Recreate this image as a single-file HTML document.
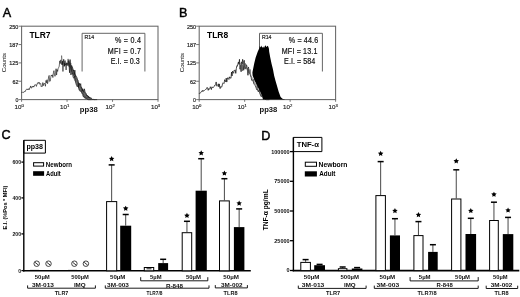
<!DOCTYPE html>
<html><head><meta charset="utf-8"><style>
html,body{margin:0;padding:0;background:#fff;width:520px;height:297px;overflow:hidden}
svg{display:block;will-change:transform}
text{font-family:"Liberation Sans", sans-serif}
</style></head><body>
<svg width="520" height="297" viewBox="0 0 520 297">
<rect width="520" height="297" fill="#fff"/>
<text x="2.8" y="17.2" font-size="12.6" text-anchor="start" fill="#000" stroke="#000" stroke-width="0.45">A</text>
<text x="179.1" y="17.4" font-size="12.6" text-anchor="start" fill="#000" stroke="#000" stroke-width="0.45">B</text>
<text x="1.6" y="139.3" font-size="12.6" text-anchor="start" fill="#000" stroke="#000" stroke-width="0.45">C</text>
<text x="261.3" y="139.5" font-size="12.6" text-anchor="start" fill="#000" stroke="#000" stroke-width="0.45">D</text>
<rect x="21.6" y="26.2" width="136.4" height="73.39999999999999" fill="none" stroke="#666" stroke-width="1.05"/>
<line x1="18.6" y1="26.2" x2="21.6" y2="26.2" stroke="#666" stroke-width="0.9"/>
<text x="18.400000000000002" y="28.5" font-size="6.2" text-anchor="end" textLength="9.1" lengthAdjust="spacingAndGlyphs" fill="#222" stroke="#222" stroke-width="0.2">250</text>
<line x1="18.6" y1="44.55" x2="21.6" y2="44.55" stroke="#666" stroke-width="0.9"/>
<text x="18.400000000000002" y="46.849999999999994" font-size="6.2" text-anchor="end" textLength="9.1" lengthAdjust="spacingAndGlyphs" fill="#222" stroke="#222" stroke-width="0.2">187</text>
<line x1="18.6" y1="62.89999999999999" x2="21.6" y2="62.89999999999999" stroke="#666" stroke-width="0.9"/>
<text x="18.400000000000002" y="65.19999999999999" font-size="6.2" text-anchor="end" textLength="9.1" lengthAdjust="spacingAndGlyphs" fill="#222" stroke="#222" stroke-width="0.2">125</text>
<line x1="18.6" y1="81.25" x2="21.6" y2="81.25" stroke="#666" stroke-width="0.9"/>
<text x="18.400000000000002" y="83.55" font-size="6.2" text-anchor="end" textLength="6.0" lengthAdjust="spacingAndGlyphs" fill="#222" stroke="#222" stroke-width="0.2">62</text>
<line x1="18.6" y1="99.6" x2="21.6" y2="99.6" stroke="#666" stroke-width="0.9"/>
<text x="18.400000000000002" y="101.89999999999999" font-size="6.2" text-anchor="end" textLength="2.9" lengthAdjust="spacingAndGlyphs" fill="#222" stroke="#222" stroke-width="0.2">0</text>
<line x1="21.6" y1="99.6" x2="21.6" y2="101.8" stroke="#666" stroke-width="0.9"/>
<text x="23.8" y="108.5" font-size="6.2" text-anchor="end" fill="#222" stroke="#222" stroke-width="0.15">10<tspan font-size="4.2" dy="-2.0">0</tspan></text>
<line x1="67.07" y1="99.6" x2="67.07" y2="101.8" stroke="#666" stroke-width="0.9"/>
<text x="69.27" y="108.5" font-size="6.2" text-anchor="end" fill="#222" stroke="#222" stroke-width="0.15">10<tspan font-size="4.2" dy="-2.0">1</tspan></text>
<line x1="112.53999999999999" y1="99.6" x2="112.53999999999999" y2="101.8" stroke="#666" stroke-width="0.9"/>
<text x="114.74" y="108.5" font-size="6.2" text-anchor="end" fill="#222" stroke="#222" stroke-width="0.15">10<tspan font-size="4.2" dy="-2.0">2</tspan></text>
<line x1="158.01" y1="99.6" x2="158.01" y2="101.8" stroke="#666" stroke-width="0.9"/>
<text x="160.20999999999998" y="108.5" font-size="6.2" text-anchor="end" fill="#222" stroke="#222" stroke-width="0.15">10<tspan font-size="4.2" dy="-2.0">3</tspan></text>
<text transform="translate(6.400000000000002,62.6) rotate(-90)" font-size="5.8" text-anchor="middle" fill="#222" stroke="#222" stroke-width="0.05" textLength="19.2" lengthAdjust="spacingAndGlyphs">Counts</text>
<text x="29.400000000000002" y="38.2" font-size="9.8" font-weight="bold" text-anchor="start" textLength="21.2" lengthAdjust="spacingAndGlyphs" fill="#000">TLR7</text>
<polyline points="82.1,71.5 82.1,33.3 144.9,33.3 144.9,71.5" fill="none" stroke="#555" stroke-width="0.9"/>
<text transform="translate(84.5,39.2) scale(0.9,1)" font-size="5.8" textLength="10.67" lengthAdjust="spacing" fill="#222" stroke="#222" stroke-width="0.2">R14</text>
<text transform="translate(115.0,42.9) scale(0.85,1)" font-size="8.4" textLength="30.59" lengthAdjust="spacing" fill="#111" stroke="#111" stroke-width="0.2">% = 0.4</text>
<text transform="translate(107.8,53.6) scale(0.85,1)" font-size="8.4" textLength="39.06" lengthAdjust="spacing" fill="#111" stroke="#111" stroke-width="0.2">MFI = 0.7</text>
<text transform="translate(110.8,64.0) scale(0.85,1)" font-size="8.4" textLength="34.12" lengthAdjust="spacing" fill="#111" stroke="#111" stroke-width="0.2">E.I. = 0.3</text>
<polygon points="68.60,62.17 69.10,62.33 69.60,62.50 70.10,63.37 70.60,64.23 71.10,65.10 71.60,65.96 72.10,66.83 72.60,67.89 73.10,69.00 73.60,70.11 74.10,71.22 74.60,72.33 75.10,73.43 75.60,74.61 76.10,75.88 76.60,77.14 77.10,78.41 77.60,79.68 78.10,80.95 78.60,81.90 79.10,82.78 79.60,83.65 80.10,84.53 80.60,85.40 81.10,86.28 81.60,87.15 82.10,88.03 82.60,88.75 83.10,89.43 83.60,90.11 84.10,90.79 84.60,91.48 85.10,92.16 85.60,92.84 86.10,93.53 86.60,94.21 87.10,94.89 87.60,95.48 88.10,95.92 88.60,96.36 89.10,96.80 89.60,97.24 90.10,97.68 90.60,98.12 91.10,98.42 91.60,98.62 92.10,98.81 92.60,99.01 93.10,99.21 93.60,99.40 94.10,99.60 87.90,99.60 87.40,99.21 86.90,98.82 86.40,98.43 85.90,98.03 85.40,97.59 84.90,97.07 84.40,96.55 83.90,96.03 83.40,95.51 82.90,94.79 82.40,93.95 81.90,93.10 81.40,92.26 80.90,91.41 80.40,90.57 79.90,89.72 79.40,88.88 78.90,88.00 78.40,87.00 77.90,86.00 77.40,85.00 76.90,84.00 76.40,83.00 75.90,82.00 75.40,80.95 74.90,79.68 74.40,78.41 73.90,77.14 73.40,75.87 72.90,74.61 72.40,73.37 71.90,72.16 71.40,70.94 70.90,69.73 70.40,68.50 69.90,67.25 69.40,66.00 68.90,64.75" fill="#666"/>
<polyline points="21.60,92.51 22.13,91.98 22.66,92.45 23.19,92.60 23.72,92.44 24.25,91.27 24.78,91.62 25.31,91.54 25.84,89.93 26.37,89.58 26.90,88.85 27.43,89.81 27.96,88.95 28.49,88.87 29.02,89.99 29.55,88.05 30.08,88.10 30.61,85.95 31.14,87.92 31.67,88.11 32.20,86.32 32.73,87.10 33.26,85.96 33.79,87.12 34.32,86.10 34.85,84.70 35.38,84.69 35.91,85.04 36.44,86.36 36.97,83.77 37.50,83.91 38.03,82.50 38.56,83.30 39.09,82.11 39.62,84.18 40.15,83.98 40.68,83.44 41.21,86.72 41.74,85.92 42.27,86.44 42.80,82.57 43.33,85.68 43.86,83.73 44.39,83.16 44.92,84.28 45.45,86.26 45.98,80.51 46.51,82.79 47.04,79.71 47.57,83.69 48.10,81.11 48.63,76.50 49.16,75.43 49.69,81.50 50.22,81.10 50.75,77.42 51.28,74.97 51.81,75.83 52.34,74.81 52.87,77.55 53.40,72.75 53.93,70.66 54.46,74.21 54.99,76.33 55.52,73.79 56.05,68.73 56.58,75.07 57.11,69.58 57.64,71.44 58.17,68.13 58.70,67.69 59.23,66.17 59.76,60.87 60.29,63.47 60.82,59.86 61.35,63.79 61.88,64.40 62.41,61.38 62.94,71.48 63.47,62.19 64.00,61.48 64.53,66.00 65.06,60.50 65.59,63.81 66.12,69.97 66.65,62.74 67.18,65.73 67.71,64.77 68.24,64.12 68.77,60.51 69.30,65.43 69.83,67.16 70.36,67.25 70.89,74.94 71.42,67.49 71.95,74.34 72.48,72.75 73.01,76.93 73.54,77.96 74.07,78.25 74.60,75.76 75.13,79.14 75.66,82.46 76.19,83.01 76.72,85.32 77.25,84.75 77.78,86.54 78.31,85.88 78.84,89.58 79.37,89.23 79.90,90.69 80.43,91.41 80.96,90.77 81.49,92.29 82.02,92.77 82.55,93.19 83.08,94.20 83.61,96.71 84.14,95.92 84.67,97.90 85.20,97.42 85.73,96.99 86.26,98.40 86.79,98.86 87.32,99.10 87.85,99.56 88.38,99.60 88.91,99.60 89.44,99.60 89.97,99.60 90.50,99.60 91.03,99.60 91.56,99.60" fill="none" stroke="#1a1a1a" stroke-width="0.65" stroke-linejoin="round"/>
<polyline points="61.60,55.53 62.13,64.86 62.66,61.20 63.19,61.73 63.72,59.27 64.25,66.44 64.78,63.15 65.31,64.16 65.84,65.13 66.37,64.29 66.90,63.27 67.43,62.71 67.96,64.89 68.49,60.77 69.02,64.07 69.55,72.78 70.08,59.54 70.61,65.48 71.14,67.47 71.67,65.51 72.20,66.52 72.73,68.07 73.26,71.07 73.79,70.15 74.32,74.67 74.85,70.15 75.38,76.40 75.91,75.76 76.44,76.70 76.97,77.71 77.50,79.83 78.03,80.00 78.56,87.43 79.09,83.11 79.62,84.11 80.15,85.41 80.68,83.62 81.21,87.93 81.74,87.67 82.27,90.96 82.80,88.85 83.33,91.76 83.86,92.35 84.39,88.82 84.92,91.33 85.45,92.77 85.98,93.32 86.51,95.45 87.04,95.76 87.57,95.23 88.10,97.51 88.63,96.29 89.16,98.00 89.69,97.33 90.22,98.41 90.75,97.56 91.28,98.14 91.81,98.93 92.34,99.53 92.87,99.35 93.40,99.36 93.93,99.60 94.46,99.60 94.99,99.60 95.52,99.60 96.05,99.60 96.58,99.60 97.11,99.60" fill="none" stroke="#111" stroke-width="0.7" stroke-linejoin="round"/>
<polyline points="67.60,62.20 68.13,58.90 68.66,66.35 69.19,61.55 69.72,66.70 70.25,67.96 70.78,62.93 71.31,69.61 71.84,71.68 72.37,71.77 72.90,72.55 73.43,76.01 73.96,76.28 74.49,80.27 75.02,80.58 75.55,81.99 76.08,84.38 76.61,85.64 77.14,86.79 77.67,85.87 78.20,86.83 78.73,88.06 79.26,88.56 79.79,91.09 80.32,90.52 80.85,91.08 81.38,91.48 81.91,93.91 82.44,94.36 82.97,96.51 83.50,96.01 84.03,97.72 84.56,97.72 85.09,96.88 85.62,99.06 86.15,98.10 86.68,98.67 87.21,99.21 87.74,99.44 88.27,99.60 88.80,99.60 89.33,99.60 89.86,99.60 90.39,99.60 90.92,99.60 91.45,99.60 91.98,99.60 92.51,99.60 93.04,99.60 93.57,99.60 94.10,99.60 94.63,99.60 95.16,99.60" fill="none" stroke="#333" stroke-width="0.6" stroke-linejoin="round"/>
<rect x="199.2" y="26.2" width="136.40000000000003" height="73.39999999999999" fill="none" stroke="#666" stroke-width="1.05"/>
<line x1="196.2" y1="26.2" x2="199.2" y2="26.2" stroke="#666" stroke-width="0.9"/>
<text x="196.0" y="28.5" font-size="6.2" text-anchor="end" textLength="9.1" lengthAdjust="spacingAndGlyphs" fill="#222" stroke="#222" stroke-width="0.2">250</text>
<line x1="196.2" y1="44.55" x2="199.2" y2="44.55" stroke="#666" stroke-width="0.9"/>
<text x="196.0" y="46.849999999999994" font-size="6.2" text-anchor="end" textLength="9.1" lengthAdjust="spacingAndGlyphs" fill="#222" stroke="#222" stroke-width="0.2">187</text>
<line x1="196.2" y1="62.89999999999999" x2="199.2" y2="62.89999999999999" stroke="#666" stroke-width="0.9"/>
<text x="196.0" y="65.19999999999999" font-size="6.2" text-anchor="end" textLength="9.1" lengthAdjust="spacingAndGlyphs" fill="#222" stroke="#222" stroke-width="0.2">125</text>
<line x1="196.2" y1="81.25" x2="199.2" y2="81.25" stroke="#666" stroke-width="0.9"/>
<text x="196.0" y="83.55" font-size="6.2" text-anchor="end" textLength="6.0" lengthAdjust="spacingAndGlyphs" fill="#222" stroke="#222" stroke-width="0.2">62</text>
<line x1="196.2" y1="99.6" x2="199.2" y2="99.6" stroke="#666" stroke-width="0.9"/>
<text x="196.0" y="101.89999999999999" font-size="6.2" text-anchor="end" textLength="2.9" lengthAdjust="spacingAndGlyphs" fill="#222" stroke="#222" stroke-width="0.2">0</text>
<line x1="199.2" y1="99.6" x2="199.2" y2="101.8" stroke="#666" stroke-width="0.9"/>
<text x="201.39999999999998" y="108.5" font-size="6.2" text-anchor="end" fill="#222" stroke="#222" stroke-width="0.15">10<tspan font-size="4.2" dy="-2.0">0</tspan></text>
<line x1="244.67" y1="99.6" x2="244.67" y2="101.8" stroke="#666" stroke-width="0.9"/>
<text x="246.86999999999998" y="108.5" font-size="6.2" text-anchor="end" fill="#222" stroke="#222" stroke-width="0.15">10<tspan font-size="4.2" dy="-2.0">1</tspan></text>
<line x1="290.14" y1="99.6" x2="290.14" y2="101.8" stroke="#666" stroke-width="0.9"/>
<text x="292.34" y="108.5" font-size="6.2" text-anchor="end" fill="#222" stroke="#222" stroke-width="0.15">10<tspan font-size="4.2" dy="-2.0">2</tspan></text>
<line x1="335.61" y1="99.6" x2="335.61" y2="101.8" stroke="#666" stroke-width="0.9"/>
<text x="337.81" y="108.5" font-size="6.2" text-anchor="end" fill="#222" stroke="#222" stroke-width="0.15">10<tspan font-size="4.2" dy="-2.0">3</tspan></text>
<text transform="translate(184.0,62.6) rotate(-90)" font-size="5.8" text-anchor="middle" fill="#222" stroke="#222" stroke-width="0.05" textLength="19.2" lengthAdjust="spacingAndGlyphs">Counts</text>
<text x="207.0" y="38.2" font-size="9.8" font-weight="bold" text-anchor="start" textLength="21.2" lengthAdjust="spacingAndGlyphs" fill="#000">TLR8</text>
<polyline points="259.5,71.5 259.5,33.3 322.4,33.3 322.4,71.5" fill="none" stroke="#555" stroke-width="0.9"/>
<text transform="translate(261.9,39.2) scale(0.9,1)" font-size="5.8" textLength="10.67" lengthAdjust="spacing" fill="#222" stroke="#222" stroke-width="0.2">R14</text>
<text transform="translate(288.8,43.2) scale(0.85,1)" font-size="8.4" textLength="34.59" lengthAdjust="spacing" fill="#111" stroke="#111" stroke-width="0.2">% = 44.6</text>
<text transform="translate(281.8,54.0) scale(0.85,1)" font-size="8.4" textLength="41.88" lengthAdjust="spacing" fill="#111" stroke="#111" stroke-width="0.2">MFI = 13.1</text>
<text transform="translate(284.1,64.3) scale(0.85,1)" font-size="8.4" textLength="36.47" lengthAdjust="spacing" fill="#111" stroke="#111" stroke-width="0.2">E.I. = 584</text>
<polyline points="199.20,93.66 199.73,93.03 200.26,93.19 200.79,92.33 201.32,91.59 201.85,91.53 202.38,90.39 202.91,91.62 203.44,90.61 203.97,90.76 204.50,90.45 205.03,89.85 205.56,89.43 206.09,89.14 206.62,88.93 207.15,87.37 207.68,88.34 208.21,90.33 208.74,88.62 209.27,89.24 209.80,88.86 210.33,86.75 210.86,87.99 211.39,89.57 211.92,86.81 212.45,87.17 212.98,87.86 213.51,87.22 214.04,86.51 214.57,85.36 215.10,85.55 215.63,84.48 216.16,81.95 216.69,85.98 217.22,86.22 217.75,85.60 218.28,83.80 218.81,86.85 219.34,83.92 219.87,88.43 220.40,88.34 220.93,86.45 221.46,87.22 221.99,86.30 222.52,83.88 223.05,82.79 223.58,83.33 224.11,83.51 224.64,79.70 225.17,81.00 225.70,81.76 226.23,78.09 226.76,82.08 227.29,79.24 227.82,77.65 228.35,78.67 228.88,79.48 229.41,76.84 229.94,78.31 230.47,77.85 231.00,78.29 231.53,72.05 232.06,75.97 232.59,71.13 233.12,72.39 233.65,73.28 234.18,70.13 234.71,70.41 235.24,70.04 235.77,73.36 236.30,68.71 236.83,65.75 237.36,66.18 237.89,64.06 238.42,61.94 238.95,64.33 239.48,59.34 240.01,69.22 240.54,65.27 241.07,71.71 241.60,61.85 242.13,63.98 242.66,59.31 243.19,65.33 243.72,70.20 244.25,60.56 244.78,68.70 245.31,68.96 245.84,66.30 246.37,64.76 246.90,69.20 247.43,68.52 247.96,75.29 248.49,66.98 249.02,72.88 249.55,73.71 250.08,74.14 250.61,76.09 251.14,77.31 251.67,80.34 252.20,80.33 252.73,80.79 253.26,81.14 253.79,83.77 254.32,84.48 254.85,85.16 255.38,85.89 255.91,87.34 256.44,88.87 256.97,90.03 257.50,89.15 258.03,90.86 258.56,91.98 259.09,89.75 259.62,92.95 260.15,93.87 260.68,95.26 261.21,96.62 261.74,95.79 262.27,97.05 262.80,97.49 263.33,97.56 263.86,98.01 264.39,98.71 264.92,99.17 265.45,99.43 265.98,99.60 266.51,99.60 267.04,99.60 267.57,99.60 268.10,99.60 268.63,99.60 269.16,99.60" fill="none" stroke="#111" stroke-width="0.75" stroke-linejoin="round"/>
<polyline points="240.00,68.61 240.53,68.28 241.06,62.75 241.59,71.15 242.12,64.68 242.65,70.87 243.18,61.03 243.71,63.66 244.24,60.28 244.77,65.73 245.30,63.38 245.83,65.86 246.36,67.66 246.89,65.62 247.42,70.66 247.95,69.35 248.48,67.73 249.01,70.71 249.54,73.13 250.07,69.44 250.60,74.39 251.13,76.68 251.66,76.71 252.19,79.05 252.72,80.08 253.25,81.27 253.78,79.12 254.31,83.04 254.84,83.84 255.37,84.19 255.90,83.53 256.43,87.33 256.96,88.78 257.49,86.28 258.02,91.42 258.55,91.09 259.08,90.91 259.61,90.30 260.14,94.06 260.67,96.03 261.20,94.43 261.73,96.04 262.26,96.45 262.79,96.46 263.32,97.12 263.85,97.63 264.38,98.36 264.91,98.13 265.44,98.56 265.97,99.35 266.50,99.60 267.03,99.60 267.56,99.60 268.09,99.60 268.62,99.60 269.15,99.60 269.68,99.60" fill="none" stroke="#555" stroke-width="0.75" stroke-linejoin="round"/>
<polygon points="262.8,99.6 262.6,96.9 260.1,91.6 257.4,86.2 254.7,80.8 252.6,75.4 252.4,72.5 253,69.4 254.2,63.6 255.6,57.7 257.7,51.8 259.3,48.2 259.8,46.0 260.6,47.5 261.3,45.6 262.2,47.8 263.2,46.5 264.0,48 264.8,46.2 265.6,45.3 266.4,47.2 267.3,45.8 268.2,46.4 268.9,48.5 269.2,51.8 270.3,57.7 271.5,63.6 273,69.4 274.1,75.4 275.5,80.8 277.1,86.2 278.6,91.6 280.6,96.9 282.5,98.7 285.4,99.6" fill="#000"/>
<text x="79.8" y="112.2" font-size="7.7" font-weight="bold" text-anchor="start" textLength="18.0" lengthAdjust="spacingAndGlyphs" fill="#111">pp38</text>
<text x="259.5" y="112.2" font-size="7.7" font-weight="bold" text-anchor="start" textLength="17.8" lengthAdjust="spacingAndGlyphs" fill="#111">pp38</text>
<line x1="23.8" y1="140.3" x2="23.8" y2="271.5" stroke="#000" stroke-width="1.4"/>
<line x1="23.1" y1="270.8" x2="250.8" y2="270.8" stroke="#000" stroke-width="1.6"/>
<line x1="21.400000000000002" y1="162.1" x2="23.8" y2="162.1" stroke="#000" stroke-width="1.3"/>
<text x="21.000000000000004" y="164.0" font-size="5.4" font-weight="bold" text-anchor="end" textLength="8.55" lengthAdjust="spacingAndGlyphs" fill="#111">600</text>
<line x1="21.400000000000002" y1="197.9" x2="23.8" y2="197.9" stroke="#000" stroke-width="1.3"/>
<text x="21.000000000000004" y="199.8" font-size="5.4" font-weight="bold" text-anchor="end" textLength="8.55" lengthAdjust="spacingAndGlyphs" fill="#111">400</text>
<line x1="21.400000000000002" y1="233.9" x2="23.8" y2="233.9" stroke="#000" stroke-width="1.3"/>
<text x="21.000000000000004" y="235.8" font-size="5.4" font-weight="bold" text-anchor="end" textLength="8.55" lengthAdjust="spacingAndGlyphs" fill="#111">200</text>
<line x1="21.400000000000002" y1="270.6" x2="23.8" y2="270.6" stroke="#000" stroke-width="1.3"/>
<text x="21.000000000000004" y="272.5" font-size="5.4" font-weight="bold" text-anchor="end" textLength="2.85" lengthAdjust="spacingAndGlyphs" fill="#111">0</text>
<polyline points="23.8,153.1 23.8,140.3 45.4,140.3 45.4,153.1 23.8,153.1" fill="none" stroke="#000" stroke-width="1"/>
<text x="26.4" y="149.0" font-size="7.3" font-weight="bold" text-anchor="start" textLength="16.6" lengthAdjust="spacingAndGlyphs" fill="#000">pp38</text>
<rect x="33.6" y="162.7" width="10" height="3.4" fill="#fff" stroke="#000" stroke-width="1"/>
<rect x="33.1" y="171.2" width="11" height="4.6" fill="#000"/>
<text x="45.8" y="166.6" font-size="6.3" font-weight="bold" text-anchor="start" textLength="26.3" lengthAdjust="spacingAndGlyphs" fill="#000">Newborn</text>
<text x="46.0" y="175.8" font-size="6.3" font-weight="bold" text-anchor="start" textLength="14.8" lengthAdjust="spacingAndGlyphs" fill="#000">Adult</text>
<text transform="translate(7.3,207.6) rotate(-90)" font-size="5.9" font-weight="bold" text-anchor="middle" textLength="44" lengthAdjust="spacingAndGlyphs">E.I. (%Pos * MFI)</text>
<circle cx="36.7" cy="263.7" r="2.75" fill="none" stroke="#222" stroke-width="0.85"/>
<line x1="34.995000000000005" y1="262.336" x2="38.405" y2="265.06399999999996" stroke="#333" stroke-width="1.0"/>
<circle cx="48.5" cy="263.7" r="2.75" fill="none" stroke="#222" stroke-width="0.85"/>
<line x1="46.795" y1="262.336" x2="50.205" y2="265.06399999999996" stroke="#333" stroke-width="1.0"/>
<circle cx="74.4" cy="263.7" r="2.75" fill="none" stroke="#222" stroke-width="0.85"/>
<line x1="72.69500000000001" y1="262.336" x2="76.105" y2="265.06399999999996" stroke="#333" stroke-width="1.0"/>
<circle cx="85.9" cy="263.7" r="2.75" fill="none" stroke="#222" stroke-width="0.85"/>
<line x1="84.19500000000001" y1="262.336" x2="87.605" y2="265.06399999999996" stroke="#333" stroke-width="1.0"/>
<line x1="30" y1="270.40000000000003" x2="39" y2="270.40000000000003" stroke="#000" stroke-width="0.9"/>
<line x1="68" y1="270.40000000000003" x2="77" y2="270.40000000000003" stroke="#000" stroke-width="0.9"/>
<rect x="106.6" y="201.6" width="10.100000000000009" height="69.20000000000002" fill="#fff" stroke="#000" stroke-width="1"/>
<line x1="111.65" y1="164.9" x2="111.65" y2="201.1" stroke="#333" stroke-width="0.9"/>
<line x1="108.65" y1="164.9" x2="114.65" y2="164.9" stroke="#000" stroke-width="1.5"/>
<polygon points="111.65,156.05 112.49,157.75 114.36,158.02 113.01,159.34 113.33,161.21 111.65,160.33 109.97,161.21 110.29,159.34 108.94,158.02 110.81,157.75" fill="#000"/>
<rect x="120.2" y="225.7" width="10.999999999999986" height="45.10000000000002" fill="#000"/>
<line x1="125.69999999999999" y1="214.5" x2="125.69999999999999" y2="225.7" stroke="#333" stroke-width="0.9"/>
<line x1="122.69999999999999" y1="214.5" x2="128.7" y2="214.5" stroke="#000" stroke-width="1.5"/>
<polygon points="125.70,205.65 126.54,207.35 128.41,207.62 127.06,208.94 127.38,210.81 125.70,209.93 124.02,210.81 124.34,208.94 122.99,207.62 124.86,207.35" fill="#000"/>
<rect x="144.3" y="267.5" width="9.399999999999977" height="3.3000000000000114" fill="#fff" stroke="#000" stroke-width="1"/>
<line x1="146.5" y1="268.8" x2="151.5" y2="268.8" stroke="#000" stroke-width="0.9"/>
<rect x="158.2" y="263.1" width="9.900000000000006" height="7.699999999999989" fill="#000"/>
<line x1="163.14999999999998" y1="259.3" x2="163.14999999999998" y2="263.1" stroke="#333" stroke-width="0.9"/>
<line x1="160.14999999999998" y1="259.3" x2="166.14999999999998" y2="259.3" stroke="#000" stroke-width="1.5"/>
<rect x="182.2" y="232.7" width="9.5" height="38.10000000000002" fill="#fff" stroke="#000" stroke-width="1"/>
<line x1="186.95" y1="221.3" x2="186.95" y2="232.2" stroke="#333" stroke-width="0.9"/>
<line x1="183.95" y1="221.3" x2="189.95" y2="221.3" stroke="#000" stroke-width="1.5"/>
<polygon points="186.95,212.85 187.79,214.55 189.66,214.82 188.31,216.14 188.63,218.01 186.95,217.12 185.27,218.01 185.59,216.14 184.24,214.82 186.11,214.55" fill="#000"/>
<rect x="195.6" y="190.7" width="11.200000000000017" height="80.10000000000002" fill="#000"/>
<line x1="201.2" y1="158.7" x2="201.2" y2="190.7" stroke="#333" stroke-width="0.9"/>
<line x1="198.2" y1="158.7" x2="204.2" y2="158.7" stroke="#000" stroke-width="1.5"/>
<polygon points="201.20,150.25 202.04,151.95 203.91,152.22 202.56,153.54 202.88,155.41 201.20,154.53 199.52,155.41 199.84,153.54 198.49,152.22 200.36,151.95" fill="#000"/>
<rect x="219.5" y="200.9" width="9.800000000000011" height="69.9" fill="#fff" stroke="#000" stroke-width="1"/>
<line x1="224.4" y1="178.7" x2="224.4" y2="200.4" stroke="#333" stroke-width="0.9"/>
<line x1="221.4" y1="178.7" x2="227.4" y2="178.7" stroke="#000" stroke-width="1.5"/>
<polygon points="224.40,170.45 225.24,172.15 227.11,172.42 225.76,173.74 226.08,175.61 224.40,174.73 222.72,175.61 223.04,173.74 221.69,172.42 223.56,172.15" fill="#000"/>
<rect x="233.9" y="227.1" width="10.5" height="43.70000000000002" fill="#000"/>
<line x1="239.15" y1="208.9" x2="239.15" y2="227.1" stroke="#333" stroke-width="0.9"/>
<line x1="236.15" y1="208.9" x2="242.15" y2="208.9" stroke="#000" stroke-width="1.5"/>
<polygon points="239.15,200.55 239.99,202.25 241.86,202.52 240.51,203.84 240.83,205.71 239.15,204.83 237.47,205.71 237.79,203.84 236.44,202.52 238.31,202.25" fill="#000"/>
<line x1="293.4" y1="137.4" x2="293.4" y2="271.3" stroke="#000" stroke-width="1.4"/>
<line x1="292.7" y1="270.6" x2="519.3" y2="270.6" stroke="#000" stroke-width="1.6"/>
<line x1="290.0" y1="151.6" x2="293.4" y2="151.6" stroke="#000" stroke-width="1.3"/>
<text x="289.6" y="153.5" font-size="6.2" font-weight="bold" text-anchor="end" textLength="18.419999999999998" lengthAdjust="spacingAndGlyphs" fill="#111">100000</text>
<line x1="290.0" y1="181.3" x2="293.4" y2="181.3" stroke="#000" stroke-width="1.3"/>
<text x="289.6" y="183.20000000000002" font-size="6.2" font-weight="bold" text-anchor="end" textLength="15.35" lengthAdjust="spacingAndGlyphs" fill="#111">75000</text>
<line x1="290.0" y1="211.0" x2="293.4" y2="211.0" stroke="#000" stroke-width="1.3"/>
<text x="289.6" y="212.9" font-size="6.2" font-weight="bold" text-anchor="end" textLength="15.35" lengthAdjust="spacingAndGlyphs" fill="#111">50000</text>
<line x1="290.0" y1="240.7" x2="293.4" y2="240.7" stroke="#000" stroke-width="1.3"/>
<text x="289.6" y="242.6" font-size="6.2" font-weight="bold" text-anchor="end" textLength="15.35" lengthAdjust="spacingAndGlyphs" fill="#111">25000</text>
<line x1="290.0" y1="270.5" x2="293.4" y2="270.5" stroke="#000" stroke-width="1.3"/>
<text x="289.6" y="272.4" font-size="6.2" font-weight="bold" text-anchor="end" textLength="3.07" lengthAdjust="spacingAndGlyphs" fill="#111">0</text>
<polyline points="293.4,151.6 293.4,137.4 321.9,137.4 321.9,151.6 293.4,151.6" fill="none" stroke="#000" stroke-width="1"/>
<text x="296.7" y="147.2" font-size="7.8" font-weight="bold" text-anchor="start" textLength="22.2" lengthAdjust="spacingAndGlyphs" fill="#000">TNF-α</text>
<rect x="305.3" y="162.2" width="11.2" height="4.1" fill="#fff" stroke="#000" stroke-width="1"/>
<rect x="304.8" y="171.3" width="12.1" height="5.2" fill="#000"/>
<text x="318.6" y="166.6" font-size="6.8" font-weight="bold" text-anchor="start" textLength="28.9" lengthAdjust="spacingAndGlyphs" fill="#000">Newborn</text>
<text x="319.2" y="176.3" font-size="6.8" font-weight="bold" text-anchor="start" textLength="16.2" lengthAdjust="spacingAndGlyphs" fill="#000">Adult</text>
<text transform="translate(268.4,209.8) rotate(-90)" font-size="6.4" font-weight="bold" text-anchor="middle" textLength="41" lengthAdjust="spacingAndGlyphs">TNF-α pg/mL</text>
<rect x="300.8" y="262.4" width="9.599999999999966" height="8.200000000000045" fill="#fff" stroke="#000" stroke-width="1"/>
<line x1="305.6" y1="259.6" x2="305.6" y2="261.9" stroke="#333" stroke-width="0.9"/>
<line x1="302.6" y1="259.6" x2="308.6" y2="259.6" stroke="#000" stroke-width="1.5"/>
<rect x="314.2" y="265.2" width="10.800000000000011" height="5.400000000000034" fill="#000"/>
<line x1="319.6" y1="264.4" x2="319.6" y2="265.2" stroke="#333" stroke-width="0.9"/>
<line x1="316.6" y1="264.4" x2="322.6" y2="264.4" stroke="#000" stroke-width="1.5"/>
<rect x="338.4" y="268.7" width="8.5" height="1.900000000000034" fill="#fff" stroke="#000" stroke-width="1"/>
<line x1="342.65" y1="267.0" x2="342.65" y2="268.2" stroke="#333" stroke-width="0.9"/>
<line x1="339.65" y1="267.0" x2="345.65" y2="267.0" stroke="#000" stroke-width="1.5"/>
<rect x="351.8" y="268.5" width="10.599999999999966" height="2.1000000000000227" fill="#000"/>
<line x1="357.1" y1="267.6" x2="357.1" y2="268.5" stroke="#333" stroke-width="0.9"/>
<line x1="354.1" y1="267.6" x2="360.1" y2="267.6" stroke="#000" stroke-width="1.5"/>
<rect x="375.9" y="195.6" width="9.5" height="75.00000000000003" fill="#fff" stroke="#000" stroke-width="1"/>
<line x1="380.65" y1="161.6" x2="380.65" y2="195.1" stroke="#333" stroke-width="0.9"/>
<line x1="377.65" y1="161.6" x2="383.65" y2="161.6" stroke="#000" stroke-width="1.5"/>
<polygon points="380.65,150.85 381.49,152.55 383.36,152.82 382.01,154.14 382.33,156.01 380.65,155.12 378.97,156.01 379.29,154.14 377.94,152.82 379.81,152.55" fill="#000"/>
<rect x="389.9" y="235.4" width="10.100000000000023" height="35.20000000000002" fill="#000"/>
<line x1="394.95" y1="218.7" x2="394.95" y2="235.4" stroke="#333" stroke-width="0.9"/>
<line x1="391.95" y1="218.7" x2="397.95" y2="218.7" stroke="#000" stroke-width="1.5"/>
<polygon points="394.95,208.05 395.79,209.75 397.66,210.02 396.31,211.34 396.63,213.21 394.95,212.33 393.27,213.21 393.59,211.34 392.24,210.02 394.11,209.75" fill="#000"/>
<rect x="413.9" y="235.6" width="9.100000000000023" height="35.00000000000003" fill="#fff" stroke="#000" stroke-width="1"/>
<line x1="418.45" y1="221.6" x2="418.45" y2="235.1" stroke="#333" stroke-width="0.9"/>
<line x1="415.45" y1="221.6" x2="421.45" y2="221.6" stroke="#000" stroke-width="1.5"/>
<polygon points="418.45,212.05 419.29,213.75 421.16,214.02 419.81,215.34 420.13,217.21 418.45,216.33 416.77,217.21 417.09,215.34 415.74,214.02 417.61,213.75" fill="#000"/>
<rect x="428.1" y="251.9" width="9.599999999999966" height="18.700000000000017" fill="#000"/>
<line x1="432.9" y1="244.7" x2="432.9" y2="251.9" stroke="#333" stroke-width="0.9"/>
<line x1="429.9" y1="244.7" x2="435.9" y2="244.7" stroke="#000" stroke-width="1.5"/>
<rect x="451.6" y="199.0" width="9.299999999999955" height="71.60000000000002" fill="#fff" stroke="#000" stroke-width="1"/>
<line x1="456.25" y1="169.8" x2="456.25" y2="198.5" stroke="#333" stroke-width="0.9"/>
<line x1="453.25" y1="169.8" x2="459.25" y2="169.8" stroke="#000" stroke-width="1.5"/>
<polygon points="456.25,158.35 457.09,160.05 458.96,160.32 457.61,161.64 457.93,163.51 456.25,162.62 454.57,163.51 454.89,161.64 453.54,160.32 455.41,160.05" fill="#000"/>
<rect x="465.5" y="234" width="10.600000000000023" height="36.60000000000002" fill="#000"/>
<line x1="470.8" y1="218.3" x2="470.8" y2="234" stroke="#333" stroke-width="0.9"/>
<line x1="467.8" y1="218.3" x2="473.8" y2="218.3" stroke="#000" stroke-width="1.5"/>
<polygon points="470.80,207.95 471.64,209.65 473.51,209.92 472.16,211.24 472.48,213.11 470.80,212.23 469.12,213.11 469.44,211.24 468.09,209.92 469.96,209.65" fill="#000"/>
<rect x="489.6" y="220.5" width="8.699999999999989" height="50.10000000000002" fill="#fff" stroke="#000" stroke-width="1"/>
<line x1="493.95000000000005" y1="202.2" x2="493.95000000000005" y2="220" stroke="#333" stroke-width="0.9"/>
<line x1="490.95000000000005" y1="202.2" x2="496.95000000000005" y2="202.2" stroke="#000" stroke-width="1.5"/>
<polygon points="493.95,191.65 494.79,193.35 496.66,193.62 495.31,194.94 495.63,196.81 493.95,195.93 492.27,196.81 492.59,194.94 491.24,193.62 493.11,193.35" fill="#000"/>
<rect x="502.8" y="234.1" width="10.499999999999943" height="36.50000000000003" fill="#000"/>
<line x1="508.04999999999995" y1="217.4" x2="508.04999999999995" y2="234.1" stroke="#333" stroke-width="0.9"/>
<line x1="505.04999999999995" y1="217.4" x2="511.04999999999995" y2="217.4" stroke="#000" stroke-width="1.5"/>
<polygon points="508.05,207.45 508.89,209.15 510.76,209.42 509.41,210.74 509.73,212.61 508.05,211.73 506.37,212.61 506.69,210.74 505.34,209.42 507.21,209.15" fill="#000"/>
<text x="34.8" y="279.0" font-size="6.0" font-weight="bold" text-anchor="start" textLength="15" lengthAdjust="spacingAndGlyphs" fill="#111">50µM</text>
<text x="71.2" y="279.0" font-size="6.0" font-weight="bold" text-anchor="start" textLength="17.7" lengthAdjust="spacingAndGlyphs" fill="#111">500µM</text>
<text x="110.0" y="279.0" font-size="6.0" font-weight="bold" text-anchor="start" textLength="15.4" lengthAdjust="spacingAndGlyphs" fill="#111">50µM</text>
<text x="150.1" y="279.0" font-size="6.0" font-weight="bold" text-anchor="start" textLength="11.5" lengthAdjust="spacingAndGlyphs" fill="#111">5µM</text>
<text x="185.9" y="279.0" font-size="6.0" font-weight="bold" text-anchor="start" textLength="15.1" lengthAdjust="spacingAndGlyphs" fill="#111">50µM</text>
<text x="223.3" y="279.0" font-size="6.0" font-weight="bold" text-anchor="start" textLength="15.6" lengthAdjust="spacingAndGlyphs" fill="#111">50µM</text>
<text x="31.9" y="287.3" font-size="6.0" font-weight="bold" text-anchor="start" textLength="22.1" lengthAdjust="spacingAndGlyphs" fill="#111">3M-013</text>
<text x="73.9" y="287.3" font-size="6.0" font-weight="bold" text-anchor="start" textLength="11.8" lengthAdjust="spacingAndGlyphs" fill="#111">IMQ</text>
<text x="107.1" y="287.3" font-size="6.0" font-weight="bold" text-anchor="start" textLength="21.8" lengthAdjust="spacingAndGlyphs" fill="#111">3M-003</text>
<text x="166.0" y="287.6" font-size="6.0" font-weight="bold" text-anchor="start" textLength="17" lengthAdjust="spacingAndGlyphs" fill="#111">R-848</text>
<text x="221.0" y="287.3" font-size="6.0" font-weight="bold" text-anchor="start" textLength="21.5" lengthAdjust="spacingAndGlyphs" fill="#111">3M-002</text>
<text x="54.8" y="295.0" font-size="6.0" font-weight="bold" text-anchor="start" textLength="13.5" lengthAdjust="spacingAndGlyphs" fill="#111">TLR7</text>
<text x="146.5" y="295.0" font-size="6.0" font-weight="bold" text-anchor="start" textLength="15.9" lengthAdjust="spacingAndGlyphs" fill="#111">TLR7/8</text>
<text x="223.6" y="295.0" font-size="6.0" font-weight="bold" text-anchor="start" textLength="13.9" lengthAdjust="spacingAndGlyphs" fill="#111">TLR8</text>
<polyline points="27.6,285.4 27.6,288.2 95.4,288.2 95.4,285.4" fill="none" stroke="#000" stroke-width="0.9"/>
<polyline points="105.3,285.4 105.3,288.2 209.0,288.2 209.0,285.4" fill="none" stroke="#000" stroke-width="0.9"/>
<polyline points="140.7,277.2 140.7,280.8 207.8,280.8 207.8,277.2" fill="none" stroke="#000" stroke-width="0.9"/>
<polyline points="215.3,285.09999999999997 215.3,287.9 247.4,287.9 247.4,285.09999999999997" fill="none" stroke="#000" stroke-width="0.9"/>
<text x="303.8" y="278.5" font-size="6.0" font-weight="bold" text-anchor="start" textLength="15.6" lengthAdjust="spacingAndGlyphs" fill="#111">50µM</text>
<text x="340.5" y="278.5" font-size="6.0" font-weight="bold" text-anchor="start" textLength="18.4" lengthAdjust="spacingAndGlyphs" fill="#111">500µM</text>
<text x="379.5" y="278.5" font-size="6.0" font-weight="bold" text-anchor="start" textLength="15.6" lengthAdjust="spacingAndGlyphs" fill="#111">50µM</text>
<text x="418.8" y="278.5" font-size="6.0" font-weight="bold" text-anchor="start" textLength="11.8" lengthAdjust="spacingAndGlyphs" fill="#111">5µM</text>
<text x="455.1" y="278.5" font-size="6.0" font-weight="bold" text-anchor="start" textLength="14.9" lengthAdjust="spacingAndGlyphs" fill="#111">50µM</text>
<text x="493.1" y="278.5" font-size="6.0" font-weight="bold" text-anchor="start" textLength="14.6" lengthAdjust="spacingAndGlyphs" fill="#111">50µM</text>
<text x="301.8" y="287.1" font-size="6.0" font-weight="bold" text-anchor="start" textLength="22.5" lengthAdjust="spacingAndGlyphs" fill="#111">3M-013</text>
<text x="344.0" y="287.1" font-size="6.0" font-weight="bold" text-anchor="start" textLength="11.7" lengthAdjust="spacingAndGlyphs" fill="#111">IMQ</text>
<text x="376.6" y="287.1" font-size="6.0" font-weight="bold" text-anchor="start" textLength="22.5" lengthAdjust="spacingAndGlyphs" fill="#111">3M-003</text>
<text x="436.6" y="287.1" font-size="6.0" font-weight="bold" text-anchor="start" textLength="16.1" lengthAdjust="spacingAndGlyphs" fill="#111">R-848</text>
<text x="490.8" y="287.4" font-size="6.0" font-weight="bold" text-anchor="start" textLength="21.5" lengthAdjust="spacingAndGlyphs" fill="#111">3M-002</text>
<text x="326.0" y="294.9" font-size="6.0" font-weight="bold" text-anchor="start" textLength="14.2" lengthAdjust="spacingAndGlyphs" fill="#111">TLR7</text>
<text x="417.6" y="294.9" font-size="6.0" font-weight="bold" text-anchor="start" textLength="19" lengthAdjust="spacingAndGlyphs" fill="#111">TLR7/8</text>
<text x="494.6" y="295.1" font-size="6.0" font-weight="bold" text-anchor="start" textLength="13.9" lengthAdjust="spacingAndGlyphs" fill="#111">TLR8</text>
<polyline points="298.3,285.59999999999997 298.3,288.4 366.1,288.4 366.1,285.59999999999997" fill="none" stroke="#000" stroke-width="0.9"/>
<polyline points="374.3,285.59999999999997 374.3,288.4 478.2,288.4 478.2,285.59999999999997" fill="none" stroke="#000" stroke-width="0.9"/>
<polyline points="410.1,277.09999999999997 410.1,280.9 478.2,280.9 478.2,277.09999999999997" fill="none" stroke="#000" stroke-width="0.9"/>
<polyline points="486.2,285.7 486.2,288.5 517.7,288.5 517.7,285.7" fill="none" stroke="#000" stroke-width="0.9"/>
</svg>
</body></html>
